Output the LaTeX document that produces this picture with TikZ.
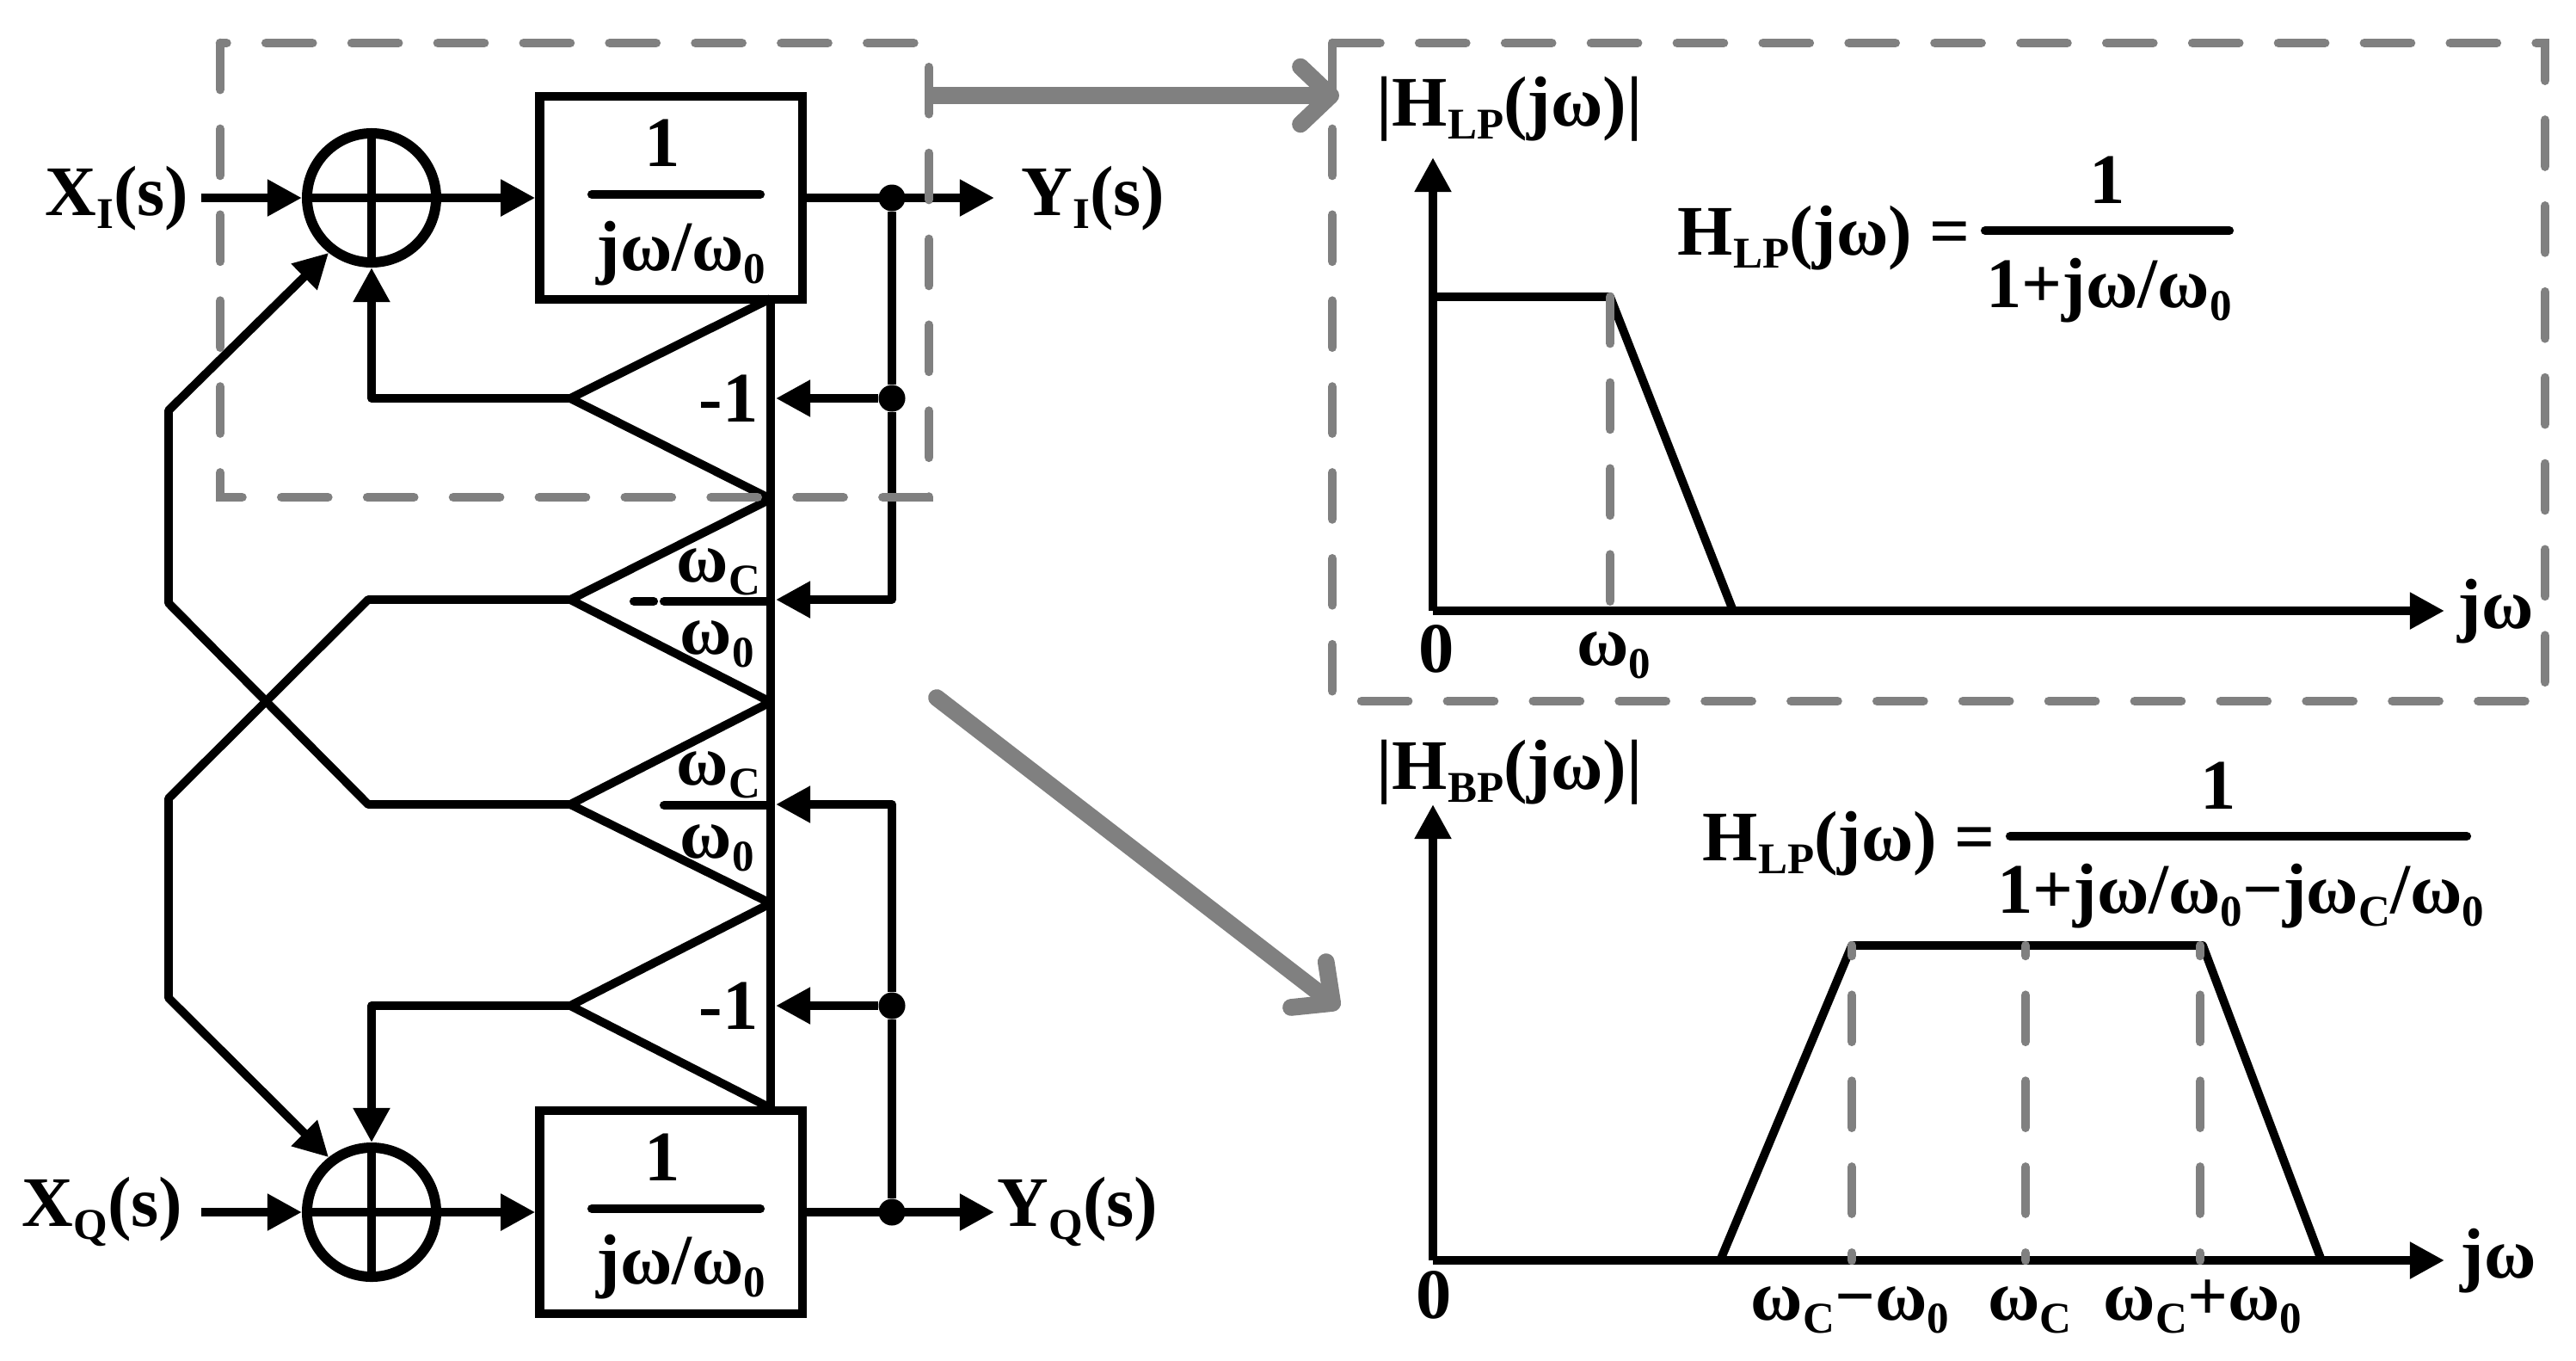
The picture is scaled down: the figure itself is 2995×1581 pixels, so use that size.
\documentclass[tikz,border=0pt]{standalone}
\usepackage{fontspec}
\setmainfont{Liberation Serif}
\usetikzlibrary{arrows.meta}
\definecolor{dashgray}{RGB}{128, 128, 128}
\newcommand{\lowtxt}[1]{\raisebox{-.19em}{\fontsize{14.5}{15}\selectfont #1}}
\tikzset{
  wire/.style={line width=2.8pt, line join=round, >={Triangle[length=11.4pt, width=11.5pt]}},
  bar/.style={line width=2.9pt, line cap=round},
  sumnode/.style={draw, circle, line width=3.4pt, minimum size=1.5cm, inner sep=0pt},
  tfbox/.style={draw, line width=2.9pt, minimum width=3.05cm, minimum height=2.36cm, inner sep=0pt},
  dot/.style={circle, fill=black, minimum size=.31cm, inner sep=0pt},
  lbl/.style={inner sep=0pt, font=\fontsize{23.5}{25}\selectfont\bfseries},
  dashbox/.style={dashgray, line width=3pt, line cap=round, dash pattern=on 15.4pt off 13pt},
  bigarrow/.style={dashgray, line width=5.6pt, line cap=round, -{Straight Barb[length=10pt, width=19pt, round]}}
}

\begin{document}
\begin{tikzpicture}[x=0.01cm, y=-0.01cm]
  \useasboundingbox (0, 0) rectangle (2995, 1581);

  % upper path
  \node[sumnode] (sumI) at (432, 230) {};
  \node[tfbox] (intI) at (780, 230) {};
  \node[dot] (dotIa) at (1037, 230) {};
  \node[dot] (dotIb) at (1037, 463) {};
  \coordinate (inI) at (234, 230);
  \coordinate (outI) at (1156, 230);
  \node[lbl, anchor=base west] (xI) at (52, 250) {X\lowtxt{I}(s)};
  \node[lbl, anchor=base west] (yI) at (1187, 250) {Y\lowtxt{I}(s)};
  \node[lbl, anchor=base] (numI) at (770, 193) {1};
  \node[lbl, anchor=base] (denI) at (792, 314) {jω/ω\lowtxt{0}};
  \draw[bar] (688, 226) -- (884, 226);

  \draw[wire, ->] (inI) -- (sumI.west);
  \draw[wire, ->] (sumI.east) -- (intI.west);
  \draw[wire, ->] (intI.east) -- (outI);
  \draw[wire] (sumI.north) -- (sumI.south);
  \draw[wire] (sumI.west) -- (sumI.east);

  % lower path
  \node[sumnode] (sumQ) at (432, 1409) {};
  \node[tfbox] (intQ) at (780, 1409) {};
  \node[dot] (dotQa) at (1037, 1409) {};
  \node[dot] (dotQb) at (1037, 1169) {};
  \coordinate (inQ) at (234, 1409);
  \coordinate (outQ) at (1156, 1409);
  \node[lbl, anchor=base west] (xQ) at (25, 1425) {X\lowtxt{Q}(s)};
  \node[lbl, anchor=base west] (yQ) at (1159, 1425) {Y\lowtxt{Q}(s)};
  \node[lbl, anchor=base] (numQ) at (770, 1372) {1};
  \node[lbl, anchor=base] (denQ) at (792, 1492) {jω/ω\lowtxt{0}};
  \draw[bar] (688, 1405) -- (884, 1405);

  \draw[wire, ->] (inQ) -- (sumQ.west);
  \draw[wire, ->] (sumQ.east) -- (intQ.west);
  \draw[wire, ->] (intQ.east) -- (outQ);
  \draw[wire] (sumQ.north) -- (sumQ.south);
  \draw[wire] (sumQ.west) -- (sumQ.east);

  % gain triangles
  \coordinate (barA) at (896, 347);
  \coordinate (barB) at (896, 580);
  \coordinate (barC) at (896, 816);
  \coordinate (barD) at (896, 1050);
  \coordinate (barE) at (896, 1288);
  \coordinate (triA) at (663, 463);
  \coordinate (triB) at (663, 697);
  \coordinate (triC) at (663, 935);
  \coordinate (triD) at (663, 1169);
  \draw[wire] (barA) -- (barE);
  \draw[wire] (barA) -- (triA) -- (barB) -- (triB) -- (barC) -- (triC) -- (barD) -- (triD) -- (barE);

  \node[lbl, anchor=base west] (gainA) at (812, 490) {-1};
  \node[lbl, anchor=base west] (gainD) at (812, 1196) {-1};
  \node[lbl, anchor=base west] (numB) at (786, 676) {ω\lowtxt{C}};
  \node[lbl, anchor=base west] (denB) at (790, 760) {ω\lowtxt{0}};
  \node[lbl, anchor=base west] (numC) at (786, 912) {ω\lowtxt{C}};
  \node[lbl, anchor=base west] (denC) at (790, 997) {ω\lowtxt{0}};
  \draw[bar] (772, 699) -- (893, 699);
  \draw[bar] (737, 699) -- (760, 699);
  \draw[bar] (772, 936) -- (893, 936);

  % feedback into the triangles
  \coordinate (tipA) at (902, 463);
  \coordinate (tipB) at (902, 697);
  \coordinate (tipC) at (902, 935);
  \coordinate (tipD) at (902, 1169);
  \coordinate (turnB) at (1037, 697);
  \coordinate (turnC) at (1037, 935);
  \draw[wire] (dotIa) -- (dotIb);
  \draw[wire, ->] (dotIb) -- (tipA);
  \draw[wire, ->] (dotIb) -- (turnB) -- (tipB);
  \draw[wire] (dotQa) -- (dotQb);
  \draw[wire, ->] (dotQb) -- (tipD);
  \draw[wire, ->] (dotQb) -- (turnC) -- (tipC);

  % outputs of the triangles
  \coordinate (cornerA) at (432, 463);
  \coordinate (cornerD) at (432, 1169);
  \draw[wire, ->] (triA) -- (cornerA) -- (sumI.south);
  \draw[wire, ->] (triD) -- (cornerD) -- (sumQ.north);
  \coordinate (crossBa) at (428, 697);
  \coordinate (crossBb) at (196, 928);
  \coordinate (crossBc) at (196, 1160);
  \draw[wire, ->] (triB) -- (crossBa) -- (crossBb) -- (crossBc) -- (sumQ.128);
  \coordinate (crossCa) at (428, 935);
  \coordinate (crossCb) at (196, 701);
  \coordinate (crossCc) at (196, 477);
  \draw[wire, ->] (triC) -- (crossCa) -- (crossCb) -- (crossCc) -- (sumI.232);

  % low pass plot
  \coordinate (lpO) at (1666, 710);
  \coordinate (lpY) at (1666, 183);
  \coordinate (lpX) at (2842, 710);
  \draw[wire, ->] (lpO) -- (lpY);
  \draw[wire, ->] (lpO) -- (lpX);
  \draw[wire] (1666, 345) -- (1872, 345) -- (2015, 710);
  \node[lbl, anchor=base west] (lpName) at (1600, 146) {|H\lowtxt{LP}(jω)|};
  \node[lbl, anchor=base west] (lpEq) at (1950, 296) {H\lowtxt{LP}(jω) =};
  \node[lbl, anchor=base] (lpNum) at (2450, 236) {1};
  \node[lbl, anchor=base] (lpDen) at (2452, 357) {1+jω/ω\lowtxt{0}};
  \draw[bar] (2308, 268) -- (2592, 268);
  \node[lbl, anchor=base] (lpZero) at (1670, 781) {0};
  \node[lbl, anchor=base] (lpCut) at (1876, 773) {ω\lowtxt{0}};
  \node[lbl, anchor=base west] (lpAxis) at (2857, 730) {jω};

  % band pass plot
  \coordinate (bpO) at (1666, 1465);
  \coordinate (bpY) at (1666, 935);
  \coordinate (bpX) at (2842, 1465);
  \draw[wire, ->] (bpO) -- (bpY);
  \draw[wire, ->] (bpO) -- (bpX);
  \draw[wire] (2000, 1465) -- (2153, 1099) -- (2561, 1099) -- (2699, 1465);
  \node[lbl, anchor=base west] (bpName) at (1600, 917) {|H\lowtxt{BP}(jω)|};
  \node[lbl, anchor=base west] (bpEq) at (1979, 1000) {H\lowtxt{LP}(jω) =};
  \node[lbl, anchor=base] (bpNum) at (2579, 940) {1};
  \node[lbl, anchor=base] (bpDen) at (2605, 1061) {1+jω/ω\lowtxt{0}−jω\lowtxt{C}/ω\lowtxt{0}};
  \draw[bar] (2337, 972) -- (2868, 972);
  \node[lbl, anchor=base] (bpZero) at (1667, 1532) {0};
  \node[lbl, anchor=base] (bpLow) at (2151, 1534) {ω\lowtxt{C}−ω\lowtxt{0}};
  \node[lbl, anchor=base] (bpMid) at (2360, 1534) {ω\lowtxt{C}};
  \node[lbl, anchor=base] (bpHigh) at (2561, 1534) {ω\lowtxt{C}+ω\lowtxt{0}};
  \node[lbl, anchor=base west] (bpAxis) at (2860, 1485) {jω};

  % grey frames and arrows
  \draw[dashbox] (256, 50) rectangle (1080, 578);
  \draw[dashbox] (1549, 50) rectangle (2959, 815);
  \draw[dashbox] (1872, 345) -- (1872, 710);
  \draw[dashbox, dash phase=12pt] (2153, 1099) -- (2153, 1465);
  \draw[dashbox, dash phase=12pt] (2355, 1099) -- (2355, 1465);
  \draw[dashbox, dash phase=12pt] (2558, 1099) -- (2558, 1465);
  \coordinate (lpFrom) at (1085, 111);
  \coordinate (lpTo) at (1557, 111);
  \coordinate (bpFrom) at (1089, 811);
  \coordinate (bpTo) at (1557, 1172);
  \draw[bigarrow] (lpFrom) -- (lpTo);
  \draw[bigarrow] (bpFrom) -- (bpTo);
\end{tikzpicture}
\end{document}
